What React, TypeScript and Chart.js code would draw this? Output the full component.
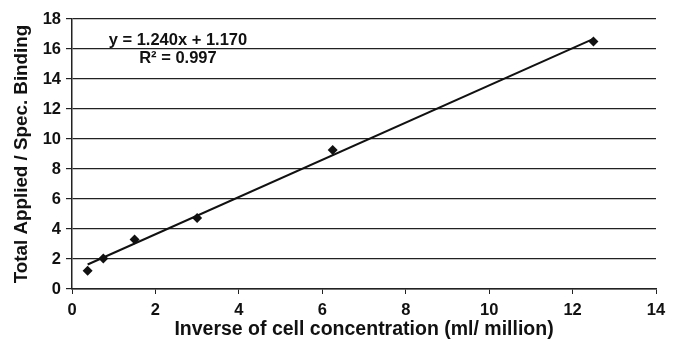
import React, { useEffect, useRef } from 'react';
import { Chart, registerables } from 'chart.js';

Chart.register(...registerables);

// Data
const inverseConcentration = [0.375, 0.75, 1.5, 3.0, 6.25, 12.5];
const bindingRatio = [1.22, 2.03, 3.3, 4.73, 9.27, 16.5];
const trendSlope = 1.24;
const trendIntercept = 1.17;
const trendRangeX = [0.375, 12.5];
const equationLines = ['y = 1.240x + 1.170', 'R\u00B2 = 0.997'];
const xTitle = 'Inverse of cell concentration (ml/ million)';
const yTitle = 'Total Applied / Spec. Binding';

const FONT = '"Liberation Sans", Arial, sans-serif';
const INK = '#111111';

const equationPlugin = {
  id: 'equationLabel',
  afterDatasetsDraw(chart: any) {
    const { ctx, scales } = chart;
    const xs = scales.x;
    const ys = scales.y;
    ctx.save();
    ctx.fillStyle = INK;
    ctx.font = `bold 16.5px ${FONT}`;
    ctx.textAlign = 'center';
    ctx.textBaseline = 'middle';
    const anchors = [
      [2.54, 16.6],
      [2.54, 15.37],
    ];
    equationLines.forEach((t, i) => {
      ctx.fillText(t, xs.getPixelForValue(anchors[i][0]), ys.getPixelForValue(anchors[i][1]));
    });
    ctx.restore();
  },
};

export default function App() {
  const ref = useRef<HTMLCanvasElement | null>(null);

  useEffect(() => {
    if (!ref.current) return;
    const points = inverseConcentration.map((x, i) => ({ x, y: bindingRatio[i] }));
    const trend = trendRangeX.map((x) => ({ x, y: trendSlope * x + trendIntercept }));
    const chart = new Chart(ref.current, {
      type: 'scatter',
      data: {
        datasets: [
          {
            type: 'line',
            data: trend,
            borderColor: INK,
            borderWidth: 2,
            pointRadius: 0,
            fill: false,
            order: 2,
          } as any,
          {
            data: points,
            pointStyle: 'rectRot',
            pointRadius: 5,
            backgroundColor: INK,
            borderColor: INK,
            borderWidth: 0,
            order: 1,
          },
        ],
      },
      options: {
        responsive: false,
        animation: false,
        devicePixelRatio: 1,
        layout: { padding: { left: 0, right: 25, top: 19, bottom: 0 } },
        plugins: {
          legend: { display: false },
          tooltip: { enabled: false },
        },
        scales: {
          x: {
            type: 'linear',
            min: 0,
            max: 14,
            ticks: {
              stepSize: 2,
              color: INK,
              padding: 7,
              font: { family: FONT, size: 16.5, weight: 'bold' },
              maxRotation: 0,
            },
            grid: {
              drawOnChartArea: false,
              drawTicks: true,
              tickLength: 5,
              color: '#222',
              lineWidth: 1,
            },
            border: { display: true, color: '#222', width: 1.5 },
            title: {
              display: true,
              text: xTitle,
              color: INK,
              font: { family: FONT, size: 19.5, weight: 'bold' },
              padding: { top: 0, bottom: 0 },
            },
            afterFit(scale: any) {
              scale.height = 52;
            },
          },
          y: {
            type: 'linear',
            min: 0,
            max: 18,
            ticks: {
              stepSize: 2,
              color: INK,
              padding: 5,
              font: { family: FONT, size: 16.5, weight: 'bold' },
            },
            grid: {
              drawTicks: true,
              tickLength: 6,
              color: '#222',
              lineWidth: 1.2,
            },
            border: { display: true, color: '#222', width: 1.5 },
            title: {
              display: true,
              text: yTitle,
              color: INK,
              font: { family: FONT, size: 18.8, weight: 'bold' },
              padding: { top: 11, bottom: 0 },
            },
            afterFit(scale: any) {
              scale.width = 72;
            },
          },
        },
      } as any,
      plugins: [equationPlugin],
    });
    return () => chart.destroy();
  }, []);

  return (
    <div style={{ position: 'absolute', left: 0, top: 0, width: 681, height: 341, background: '#fff' }}>
      <canvas ref={ref} width={681} height={341} />
    </div>
  );
}
